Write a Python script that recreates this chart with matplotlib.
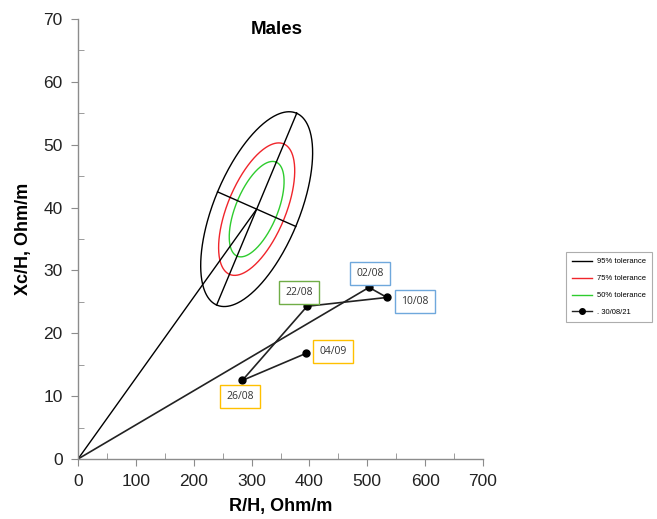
import numpy as np
import matplotlib
matplotlib.use("Agg")
import matplotlib.pyplot as plt
from matplotlib.ticker import MultipleLocator

plt.rcParams['font.family'] = ['Liberation Sans', 'DejaVu Sans']

# ---- data ----
dates = ["02/08", "10/08", "22/08", "26/08", "04/09"]
r_vals = [503, 534, 396, 284, 394]
xc_vals = [27.3, 25.7, 24.3, 12.5, 16.8]
label_colors = ["#6FA8DC", "#6FA8DC", "#70AD47", "#FFC000", "#FFC000"]
series_label = ". 30/08/21"

# reference ellipse (95% tolerance): centre and conjugate semi-axes (data units)
ell_center = (308.8, 39.75)
ell_major = (69.2, 15.25)
ell_minor = (67.6, -2.75)
tol_labels = ["95% tolerance", "75% tolerance", "50% tolerance"]
tol_scales = [1.0, 0.68, 0.49]
tol_colors = ["black", "#F0252B", "#2ECC2E"]

# label offsets in pixels
label_offsets = [(1, 14), (28, -4), (-8, 14), (-2, -16), (27, 2)]

fig = plt.figure(figsize=(6.57, 5.19), dpi=100)
ax = fig.add_axes([78/657, 1-459/519, (483-78)/657, (459-19)/519])

t = np.linspace(0, 2*np.pi, 400)
cx, cy = ell_center
for lab, s, col in zip(tol_labels, tol_scales, tol_colors):
    ex = cx + s*(ell_major[0]*np.cos(t) + ell_minor[0]*np.sin(t))
    ey = cy + s*(ell_major[1]*np.cos(t) + ell_minor[1]*np.sin(t))
    ax.plot(ex, ey, color=col, lw=1.0, label=lab)

# axes of the 95% ellipse
ax.plot([cx-ell_major[0], cx+ell_major[0]], [cy-ell_major[1], cy+ell_major[1]], color="black", lw=1.0)
ax.plot([cx-ell_minor[0], cx+ell_minor[0]], [cy-ell_minor[1], cy+ell_minor[1]], color="black", lw=1.0)
# line from origin to centre
ax.plot([0, cx], [0, cy], color="black", lw=1.0)

# vector path from origin
ax.plot([0] + r_vals[:1], [0] + xc_vals[:1], color="#222222", lw=1.2)
ax.plot(r_vals, xc_vals, color="#222222", lw=1.2, marker="o", ms=5,
        mfc="black", mec="black", label=series_label)

for d, x, y, c, off in zip(dates, r_vals, xc_vals, label_colors, label_offsets):
    ax.annotate(d, (x, y), xytext=off, textcoords="offset pixels",
                ha="center", va="center", fontsize=7.5, color="#333333",
                family=["Open Sans", "DejaVu Sans"],
                bbox=dict(boxstyle="square,pad=0.6", fc="white", ec=c, lw=1.0))

ax.set_xlim(0, 700)
ax.set_ylim(0, 70)
ax.xaxis.set_major_locator(MultipleLocator(100))
ax.xaxis.set_minor_locator(MultipleLocator(50))
ax.yaxis.set_major_locator(MultipleLocator(10))
ax.yaxis.set_minor_locator(MultipleLocator(5))
for sp in ["top", "right"]:
    ax.spines[sp].set_visible(False)
for sp in ["left", "bottom"]:
    ax.spines[sp].set_color("#8C8C8C")
    ax.spines[sp].set_linewidth(1.0)
ax.tick_params(which="major", direction="out", length=5, color="#8C8C8C",
               labelsize=12.5, labelcolor="#222222", pad=6)
ax.tick_params(which="minor", direction="in", length=4, color="#8C8C8C")

ax.set_xlabel("R/H, Ohm/m", fontsize=13, fontweight="bold", labelpad=6)
ax.set_ylabel("Xc/H, Ohm/m", fontsize=13, fontweight="bold", labelpad=8)

fig.text(277/657, 1-30/519, "Males", fontsize=13.5, fontweight="bold",
         ha="center", va="center")

leg = fig.legend(loc="upper left", bbox_to_anchor=(566/657, 1-252/519),
                 fontsize=5.5, frameon=True, fancybox=False, edgecolor="#999999",
                 handlelength=2.6, labelspacing=1.25, borderpad=0.8,
                 handletextpad=0.6, borderaxespad=0)
leg.get_frame().set_linewidth(0.8)
for line in leg.get_lines():
    line.set_linewidth(1.0)
    line.set_markersize(4)

fig.savefig("out.png", dpi=100)
